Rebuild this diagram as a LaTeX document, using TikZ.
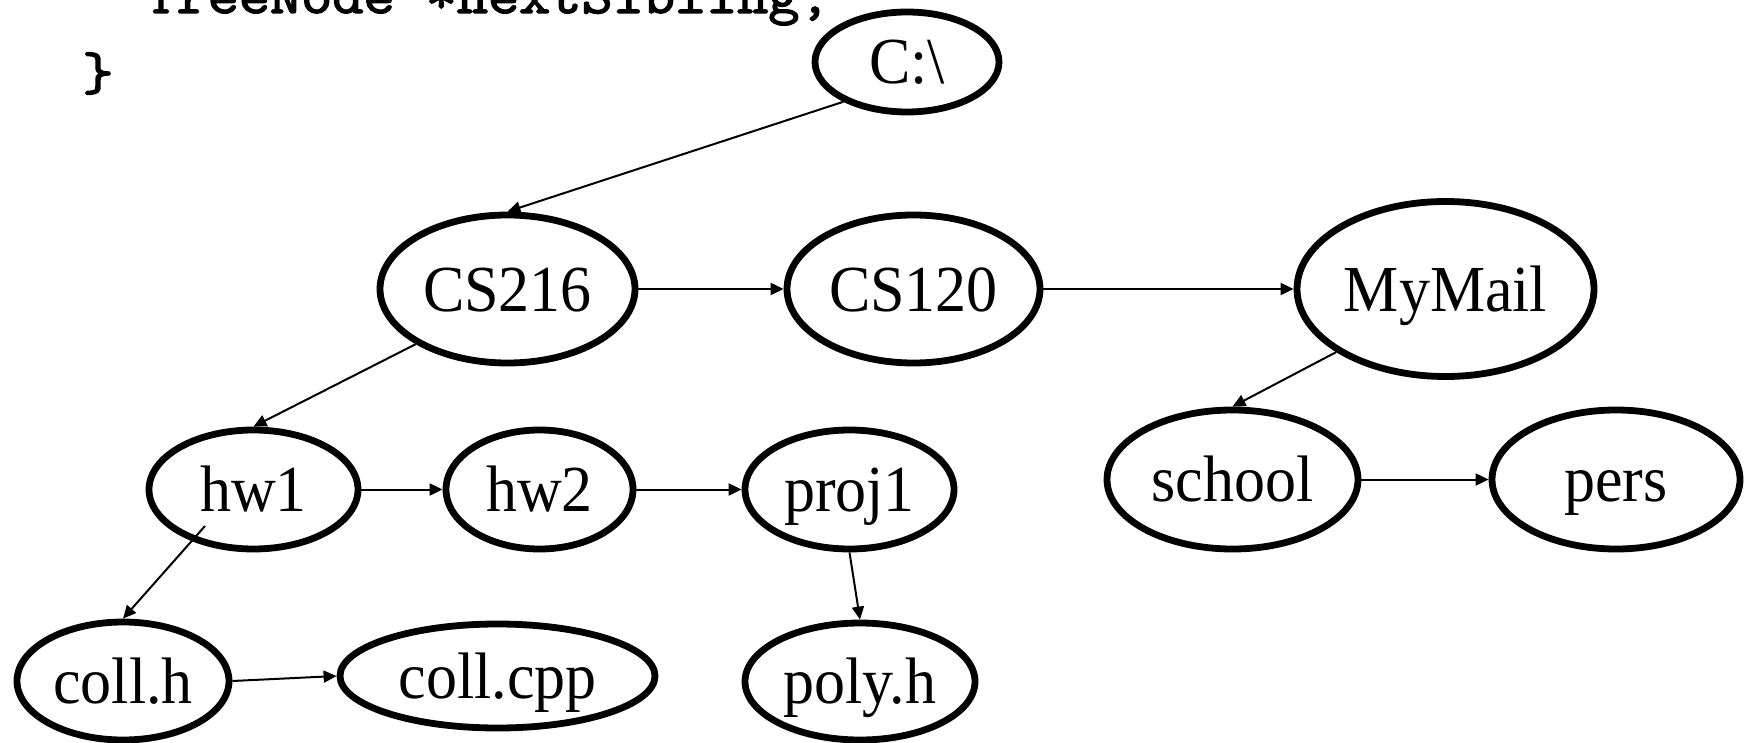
\documentclass[tikz,border=0pt]{standalone}
\usepackage{fontspec}
\setmainfont{Liberation Serif}
\newfontfamily\codefont[FakeBold=2.5]{Latin Modern Mono}
\usetikzlibrary{shapes.geometric,arrows.meta,calc}
\tikzset{
  dir/.style={draw, ellipse, line width=3.4pt, inner sep=0pt,
    font=\fontsize{31}{31}\selectfont, text height=22pt, text depth=0pt},
  link/.style={line width=1pt, -{Triangle[length=6.5pt,width=6pt]}},
  code/.style={anchor=base west, inner sep=0pt,
    font=\codefont\fontsize{27}{27}\selectfont}
}
\newcommand{\tall}[1]{\scalebox{1}[1.06]{#1}}
\newcommand{\wide}[1]{\scalebox{1.12}[1]{#1}}
\begin{document}
\begin{tikzpicture}[x=0.5pt,y=-0.5pt]
\clip (0,0) rectangle (1749,743);

% tail of the struct declaration
\node[code] (decl) at (145,13) {\wide{TreeNode *nextSibling;}};
\node[code] (close) at (82,90) {\wide{\}}};

% directory tree
\node[dir, minimum width=92pt,    minimum height=50pt]   (root)    at (907,62)      {\tall{C:\textbackslash}};
\node[dir, minimum width=127.5pt, minimum height=74pt]   (cs216)   at (507.5,289)   {\tall{CS216}};
\node[dir, minimum width=126.5pt, minimum height=74pt]   (cs120)   at (913.5,289)   {\tall{CS120}};
\node[dir, minimum width=148.5pt, minimum height=87.5pt] (mymail)  at (1445.5,289)  {\tall{MyMail}};
\node[dir, minimum width=125.5pt, minimum height=69.5pt] (school)  at (1232.5,479.5){\tall{school}};
\node[dir, minimum width=124pt,   minimum height=69.5pt] (pers)    at (1616,479.5)  {\tall{pers}};
\node[dir, minimum width=104.5pt, minimum height=59.5pt] (hw1)     at (253.5,489.5) {\tall{hw1}};
\node[dir, minimum width=93.5pt,  minimum height=59.5pt] (hw2)     at (539.5,489.5) {\tall{hw2}};
\node[dir, minimum width=104.5pt, minimum height=59.5pt] (proj1)   at (849.5,489.5) {\tall{proj1}};
\node[dir, minimum width=106pt,   minimum height=59pt]   (collh)   at (123,681)     {\tall{coll.h}};
\node[dir, minimum width=157.5pt, minimum height=52pt]   (collcpp) at (497.5,676)   {\tall{coll.cpp}};
\node[dir, minimum width=115pt,   minimum height=58.5pt] (polyh)   at (860,681.5)   {\tall{poly.h}};

% first-child links
\draw[link] (root.212) -- (cs216.north);
\draw[link] (cs216.211) -- (hw1.north);
\draw[link] (mymail.210) -- (school.north);
\draw[link] ($(hw1.center)+(-48.5,36.5)$) -- (collh.north);
\draw[link] (proj1.south) -- (polyh.north);

% next-sibling links
\draw[link] (cs216.east) -- (cs120.west);
\draw[link] (cs120.east) -- (mymail.west);
\draw[link] (school.east) -- (pers.west);
\draw[link] (hw1.east) -- (hw2.west);
\draw[link] (hw2.east) -- (proj1.west);
\draw[link] (collh.east) -- (collcpp.west);
\end{tikzpicture}
\end{document}
